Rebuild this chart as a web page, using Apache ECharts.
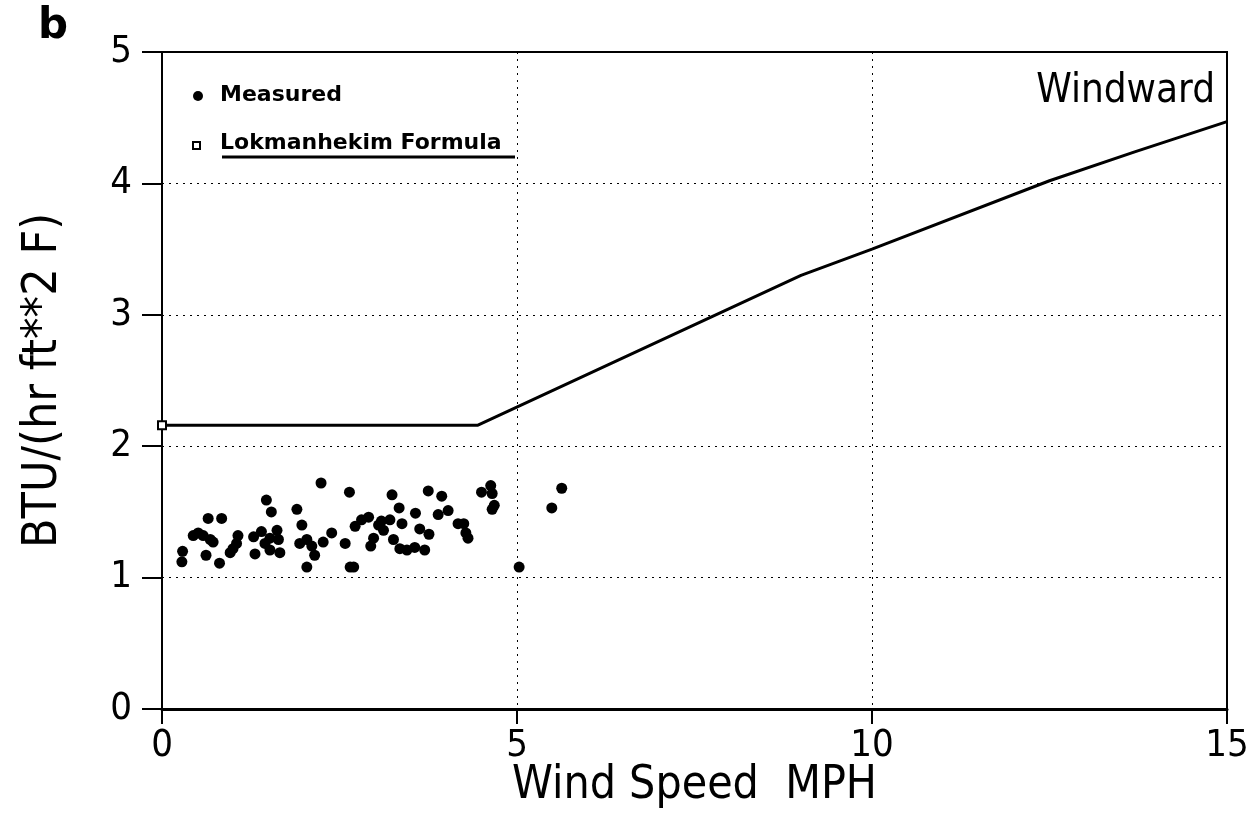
<!DOCTYPE html>
<html>
<head>
<meta charset="utf-8">
<script src="https://cdn.jsdelivr.net/npm/echarts@6/dist/echarts.min.js"></script>
<style>html,body{margin:0;padding:0;background:#fff}#c{width:1248px;height:825px}</style>
</head>
<body>
<div id="c"></div>
<script>
const xTicks = [0, 5, 10, 15];
const yTicks = [0, 1, 2, 3, 4, 5];
const measuredX = [0.29,0.28,0.44,0.51,0.58,0.65,0.84,0.68,0.72,0.62,0.81,0.96,1.00,1.07,1.05,1.29,1.31,1.40,1.47,1.54,1.45,1.52,1.62,1.64,1.66,1.52,1.90,1.97,1.94,2.04,2.11,2.15,2.04,2.24,2.27,2.39,2.58,2.64,2.65,2.70,2.72,2.81,2.91,2.98,2.94,3.09,3.12,3.05,3.21,3.24,3.34,3.38,3.26,3.35,3.45,3.56,3.70,3.57,3.63,3.76,3.75,3.94,3.89,4.03,4.17,4.25,4.31,4.28,4.50,4.63,4.65,4.68,4.65,5.03,5.63,5.49];
const measuredY = [1.20,1.12,1.32,1.34,1.32,1.45,1.45,1.29,1.27,1.17,1.11,1.19,1.22,1.32,1.26,1.31,1.18,1.35,1.59,1.50,1.26,1.30,1.36,1.29,1.19,1.21,1.52,1.40,1.26,1.29,1.24,1.17,1.08,1.72,1.27,1.34,1.26,1.65,1.08,1.08,1.39,1.44,1.46,1.30,1.24,1.43,1.36,1.40,1.44,1.63,1.53,1.41,1.29,1.22,1.21,1.23,1.21,1.49,1.37,1.33,1.66,1.62,1.48,1.51,1.41,1.41,1.30,1.34,1.65,1.70,1.64,1.55,1.52,1.08,1.68,1.53];
const formulaX = [0, 4.45, 9, 10, 12.5, 13.7, 15];
const formulaY = [2.16, 2.16, 3.30, 3.50, 4.02, 4.24, 4.47];

const FONT = "'DejaVu Sans Condensed','DejaVu Sans',sans-serif";
const chart = echarts.init(document.getElementById('c'), null, {renderer: 'canvas'});
const measured = measuredX.map((x, i) => [x, measuredY[i]]);
const formula = formulaX.map((x, i) => [x, formulaY[i]]);

chart.setOption({
  animation: false,
  backgroundColor: '#fff',
  grid: {left: 162, right: 21, top: 52, bottom: 116, containLabel: false, outerBoundsMode: 'none',
         show: true, borderColor: '#000', borderWidth: 2, backgroundColor: 'transparent'},
  xAxis: {
    type: 'value', min: 0, max: 15, interval: 5,
    name: 'Wind Speed  MPH', nameLocation: 'middle', nameGap: 54, nameMoveOverlap: false,
    nameTextStyle: {fontFamily: FONT, fontSize: 46, color: '#000'},
    axisLine: {show: true, onZero: false, lineStyle: {color: '#000', width: 3}},
    axisTick: {show: true, inside: false, length: 15, lineStyle: {color: '#000', width: 2}},
    axisLabel: {fontFamily: FONT, fontSize: 38, color: '#000', margin: 18, formatter: v => xTicks.includes(v) ? String(v) : ''},
    splitLine: {show: true, lineStyle: {color: '#000', width: 1, type: [2, 5]}}
  },
  yAxis: {
    type: 'value', min: 0, max: 5, interval: 1,
    name: 'BTU/(hr ft**2 F)', nameLocation: 'middle', nameGap: 94, nameRotate: 90, nameMoveOverlap: false,
    nameTextStyle: {fontFamily: FONT, fontSize: 48, color: '#000'},
    axisLine: {show: true, onZero: false, lineStyle: {color: '#000', width: 2}},
    axisTick: {show: true, inside: false, length: 20, lineStyle: {color: '#000', width: 2}},
    axisLabel: {fontFamily: FONT, fontSize: 38, color: '#000', margin: 30, formatter: v => yTicks.includes(v) ? String(v) : ''},
    splitLine: {show: true, lineStyle: {color: '#000', width: 1, type: [2, 5]}}
  },
  series: [
    {
      name: 'Lokmanhekim Formula', type: 'line', data: formula,
      symbol: 'none', lineStyle: {color: '#000', width: 3}, z: 3
    },
    {
      name: 'Lokmanhekim Formula marker', type: 'scatter', data: [formula[0]],
      symbol: 'rect', symbolSize: 8,
      itemStyle: {color: '#fff', borderColor: '#000', borderWidth: 2, opacity: 1}, z: 4
    },
    {
      name: 'Measured', type: 'scatter', data: measured,
      symbol: 'circle', symbolSize: 11,
      itemStyle: {color: '#000', opacity: 1}, z: 5
    }
  ],
  graphic: [
    {type: 'text', left: 38, top: 6, style: {text: 'b', font: "bold 42px 'DejaVu Sans',sans-serif", fill: '#000'}},
    {type: 'text', right: 33, top: 72, style: {text: 'Windward', font: "40px " + FONT, fill: '#000'}},
    {type: 'circle', shape: {cx: 198, cy: 96, r: 5}, style: {fill: '#000'}},
    {type: 'text', left: 220, top: 84, style: {text: 'Measured', font: "bold 22px 'DejaVu Sans',sans-serif", fill: '#000'}},
    {type: 'rect', shape: {x: 193, y: 142, width: 7, height: 7}, style: {fill: '#fff', stroke: '#000', lineWidth: 2}},
    {type: 'text', left: 220, top: 132, style: {text: 'Lokmanhekim Formula', font: "bold 22px 'DejaVu Sans',sans-serif", fill: '#000'}},
    {type: 'line', shape: {x1: 222, y1: 157, x2: 515, y2: 157}, style: {stroke: '#000', lineWidth: 3}}
  ]
});
</script>
</body>
</html>
